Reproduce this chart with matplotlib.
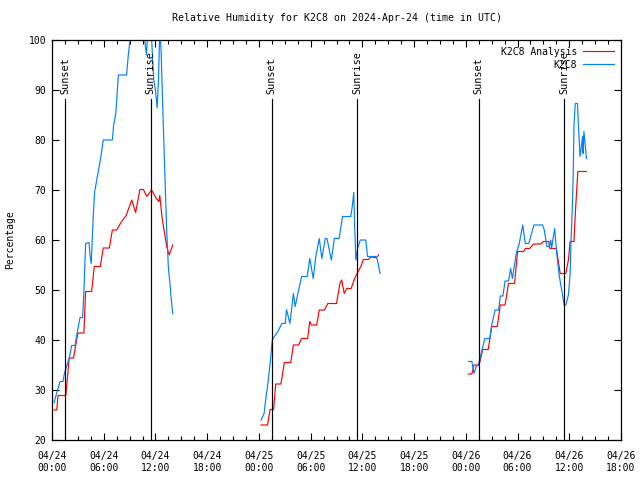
import numpy as np
import matplotlib
matplotlib.use("Agg")
import matplotlib.pyplot as plt

# hours since 04/24 00:00 UTC
red_1_t = [0.23, 0.55, 0.7, 1.6, 2.0, 2.5, 2.75, 3.0, 3.7, 3.9, 4.6, 4.9, 5.6, 5.95, 6.65, 7.0, 7.5,
           8.0, 8.6, 9.25, 9.7, 10.2, 10.6, 11.0, 11.55, 12.1, 12.4, 12.5, 12.8, 13.0, 13.3, 13.6, 14.0]
red_1_v = [26, 26, 28.9, 28.9, 36.4, 36.4, 39, 41.4, 41.4, 49.7, 49.7, 54.7, 54.7, 58.4, 58.4, 62, 62,
           63.5, 64.9, 68, 65.5, 70.1, 70.1, 68.7, 70, 68.3, 67.7, 68.9, 64, 62, 58.7, 57, 59]

blue_1_t = [0.23, 0.93, 1.27, 1.45, 2.0, 2.28, 2.67, 2.95, 3.25, 3.55, 3.7, 3.9, 4.3, 4.4, 4.55, 4.8,
            4.95, 5.4, 5.7, 5.95, 7.0, 7.15, 7.4, 7.7, 8.65, 8.85, 9.05, 9.5, 10.5, 10.95, 11.2, 11.5,
            11.8, 12.0, 12.2, 12.35, 12.5, 12.65, 12.9, 13.1, 13.3, 13.5, 13.7, 13.8, 14.0]
blue_1_v = [27.5, 31.7, 31.7, 33.4, 36.4, 38.9, 38.9, 41.7, 44.5, 44.5, 49.7, 59.3, 59.5, 57, 55.3, 65.4,
            69.7, 74, 77, 80, 80, 83, 85.3, 93, 93, 97, 100, 104, 104, 97, 104, 102,
            92, 90, 86.4, 92, 102, 98, 83.7, 72.7, 62, 54.4, 51, 48.7, 45.3]

red_2_t = [24.25, 25.0, 25.3, 25.7, 25.95, 26.55, 26.95, 27.7, 28.0, 28.6, 28.95, 29.65, 29.9, 30.1,
           30.7, 31.0, 31.6, 32.0, 33.0, 33.4, 33.6, 33.9, 34.2, 34.7, 35.1, 35.3, 35.85, 36.1, 36.7,
           37.0, 37.65, 37.9]
red_2_v = [23, 23, 26.1, 26.1, 31.2, 31.2, 35.5, 35.5, 39, 39, 40.3, 40.3, 43.7, 43,
           43, 46, 46, 47.3, 47.3, 51.3, 52, 49.3, 50.3, 50.3, 52.3, 53, 54.8, 56.1, 56.1,
           56.6, 56.5, 57]

blue_2_t = [24.25, 24.6, 24.8, 25.0, 25.3, 25.55, 25.8, 26.2, 26.65, 27.05, 27.2, 27.6, 28.0, 28.2,
            28.7, 28.95, 29.6, 29.9, 30.3, 30.6, 31.0, 31.3, 31.7, 31.9, 32.4, 32.75, 33.3, 33.7,
            34.65, 34.85, 35.0, 35.1, 35.25, 35.45, 35.75, 36.4, 36.6, 37.55, 37.75, 38.05]
blue_2_v = [24, 25.3, 28.3, 30.7, 35.3, 40, 40.7, 41.7, 43.3, 43.3, 46.1, 43.3, 49.3, 46.7,
            50.7, 52.7, 52.7, 56.3, 52.3, 56.7, 60.3, 56.3, 60.3, 60.3, 56, 60.3, 60.3, 64.7,
            64.7, 67, 69.5, 63, 56, 58.3, 60, 60, 56.7, 56.7, 56, 53.3]

red_3_t = [48.3, 48.7, 48.95, 49.45, 49.65, 49.95, 50.6, 51.0, 51.65, 52.0, 52.55, 52.95, 53.65, 54.0,
           54.7, 54.9, 55.4, 55.85, 56.7, 57.0, 57.6, 57.75, 58.5, 58.95, 59.6, 59.9, 60.1, 60.55,
           60.6, 60.75, 60.9, 61.0, 62.0]
red_3_v = [33.2, 33.2, 35, 35, 35.7, 38.1, 38.1, 42.7, 42.7, 47, 47, 51.3, 51.3, 57.7,
           57.7, 58.3, 58.3, 59.2, 59.2, 59.7, 59.7, 58.3, 58.3, 53.3, 53.3, 56, 59.7, 59.7,
           62, 66.7, 71.1, 73.7, 73.7]

blue_3_t = [48.3, 48.7, 48.95, 49.2, 49.45, 49.7, 49.95, 50.2, 50.8, 51.0, 51.4, 51.8, 52.0, 52.3,
            52.55, 52.95, 53.2, 53.4, 53.85, 54.2, 54.6, 54.9, 55.3, 55.9, 56.9, 57.1, 57.4, 57.7,
            57.85, 57.95, 58.3, 58.55, 58.85, 59.25, 59.4, 59.6, 59.9, 60.1, 60.2, 60.35, 60.45,
            60.55, 60.7, 60.95, 61.05, 61.25, 61.55, 61.6, 61.7, 62.0]
blue_3_v = [35.7, 35.7, 33.3, 34.7, 35.0, 36.7, 38.5, 40.3, 40.3, 43, 46, 46, 48.8, 48.8,
            51.8, 51.8, 54.3, 52.3, 57.3, 59.3, 63, 59.3, 59.3, 63, 63, 62, 58.7, 58.7,
            60, 58.3, 62.3, 57.3, 52.7, 48.7, 47, 47, 49, 53.3, 59.7, 66.3, 72.7,
            83.3, 87.3, 87.3, 83.3, 76.7, 80.7, 77.3, 81.7, 76.3]

sunset_t = [1.5, 25.5, 49.5]
sunrise_t = [11.45, 35.4, 59.4]

tick_hours = [0, 6, 12, 18, 24, 30, 36, 42, 48, 54, 60, 66]
tick_labels = ["04/24\n00:00", "04/24\n06:00", "04/24\n12:00", "04/24\n18:00",
               "04/25\n00:00", "04/25\n06:00", "04/25\n12:00", "04/25\n18:00",
               "04/26\n00:00", "04/26\n06:00", "04/26\n12:00", "04/26\n18:00"]

plt.rcParams['font.family'] = 'DejaVu Sans Mono'
plt.rcParams['font.size'] = 7

fig = plt.figure(figsize=(6.4, 4.8), dpi=100)
ax = fig.add_axes([52 / 640, 40 / 480, 569 / 640, 400 / 480])

red = '#ff0000'
blue = '#0080ff'

reds = [(red_1_t, red_1_v), (red_2_t, red_2_v), (red_3_t, red_3_v)]
blues = [(blue_1_t, blue_1_v), (blue_2_t, blue_2_v), (blue_3_t, blue_3_v)]
for i, (t, v) in enumerate(reds):
    ax.plot(t, v, color=red, lw=0.85, label='K2C8 Analysis' if i == 0 else None)
for i, (t, v) in enumerate(blues):
    ax.plot(t, v, color=blue, lw=0.85, label='K2C8' if i == 0 else None)

# sunrise / sunset markers
line_top = 88.2
for t in sunset_t:
    ax.plot([t, t], [20, line_top], color='black', lw=0.85)
    ax.text(t, line_top + 1, 'Sunset', rotation=90, ha='center', va='bottom', fontsize=7.3)
for t in sunrise_t:
    ax.plot([t, t], [20, line_top], color='black', lw=0.85)
    ax.text(t, line_top + 1, 'Sunrise', rotation=90, ha='center', va='bottom', fontsize=7.3)

ax.set_xlim(0, 66)
ax.set_ylim(20, 100)
ax.set_xticks(tick_hours)
ax.set_xticklabels(tick_labels)
ax.set_xticks(np.arange(0, 66.1, 1.5), minor=True)
ax.set_yticks(range(20, 101, 10))
ax.tick_params(which='both', direction='in', top=True, right=True, width=0.8)
ax.tick_params(which='major', length=5, pad=8)
ax.tick_params(which='minor', length=3)
ax.tick_params(axis='y', pad=4)
for s in ax.spines.values():
    s.set_linewidth(0.9)

ax.set_ylabel('Percentage', fontsize=7, labelpad=10)
ax.set_title('Relative Humidity for K2C8 on 2024-Apr-24 (time in UTC)', fontsize=7.1, pad=14)

ax.legend(loc='upper right', frameon=False, markerfirst=False, handlelength=3.2,
          borderaxespad=0.3, labelspacing=0.3, handletextpad=0.6, fontsize=7)

fig.savefig('out.png', dpi=100)
